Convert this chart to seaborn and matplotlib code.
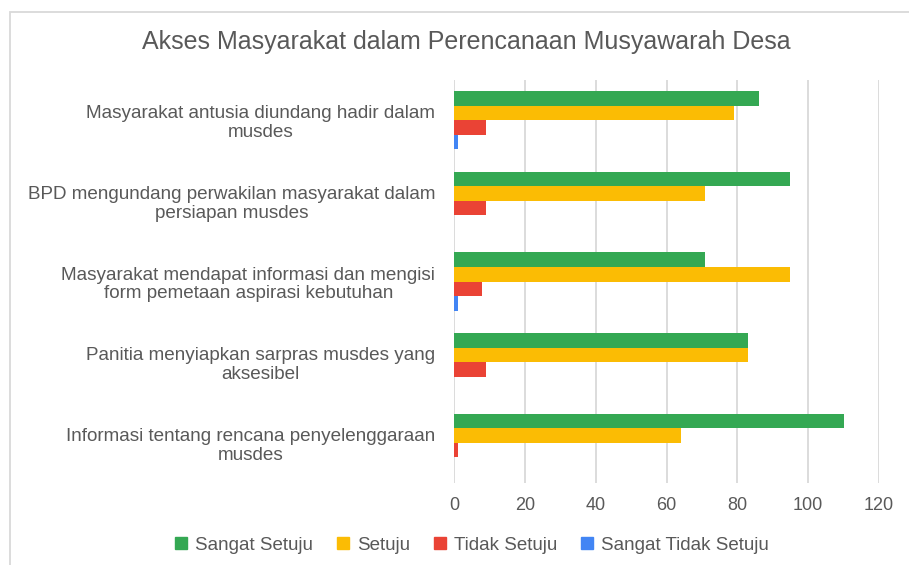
import pandas as pd
import matplotlib.pyplot as plt
import matplotlib.patches as patches
from matplotlib.lines import Line2D
import seaborn as sns

sns.set_style('white')
plt.rcParams['font.family'] = ['Liberation Sans', 'DejaVu Sans']

# data (urutan dari atas ke bawah)
categories = [
    'Masyarakat antusia diundang hadir dalam\nmusdes',
    'BPD mengundang perwakilan masyarakat dalam\npersiapan musdes',
    'Masyarakat mendapat informasi dan mengisi\nform pemetaan aspirasi kebutuhan',
    'Panitia menyiapkan sarpras musdes yang\naksesibel',
    'Informasi tentang rencana penyelenggaraan\nmusdes',
]
series = ['Sangat Setuju', 'Setuju', 'Tidak Setuju', 'Sangat Tidak Setuju']
sangat_setuju = [86, 95, 71, 83, 110]
setuju = [79, 71, 95, 83, 64]
tidak_setuju = [9, 9, 8, 9, 1]
sangat_tidak_setuju = [1, 0, 1, 0, 0]
colors = ['#34A853', '#FBBC04', '#EA4335', '#4285F4']

df = pd.DataFrame({
    'kategori': categories * 4,
    'respon': sum([[s] * len(categories) for s in series], []),
    'nilai': sangat_setuju + setuju + tidak_setuju + sangat_tidak_setuju,
})

fig = plt.figure(figsize=(9.09, 5.65), dpi=100)
ax = fig.add_axes([454 / 909, 82 / 565, (879 - 454) / 909, (483 - 80) / 565])

sns.barplot(data=df, x='nilai', y='kategori', hue='respon', hue_order=series,
            order=categories, palette=colors, saturation=1, orient='h',
            width=0.72, gap=0, linewidth=0, legend=False, ax=ax)

ax.set_xlim(0, 120)
ax.set_xticks(range(0, 121, 20))
ax.set_ylim(4.5, -0.5)
ax.grid(axis='x', color='#d9d9d9', linewidth=1.3)
ax.set_axisbelow(True)
for s in ax.spines.values():
    s.set_visible(False)
ax.set_xlabel('')
ax.set_ylabel('')
ax.tick_params(axis='x', length=0, pad=10, labelsize=13, labelcolor='#595959')
ax.tick_params(axis='y', length=0, pad=13.5, labelsize=13.6, labelcolor='#595959')
for lbl in ax.get_yticklabels():
    lbl.set_multialignment('center')
    lbl.set_linespacing(1.15)

# judul
fig.text(466 / 909, 1 - 42 / 565, 'Akses Masyarakat dalam Perencanaan Musyawarah Desa',
         ha='center', va='center', fontsize=18, color='#595959')

# legenda
handles = [Line2D([], [], marker='s', linestyle='', markersize=9,
                  markerfacecolor=c, markeredgecolor=c) for c in colors]
fig.legend(handles, series, loc='center', bbox_to_anchor=(470 / 909, 1 - 545 / 565),
           ncol=4, frameon=False, fontsize=13.5, labelcolor='#595959',
           handletextpad=0.25, columnspacing=1.1, handlelength=1.0)

# bingkai
fig.patches.append(patches.Rectangle((10 / 909, -0.1), 1.2, 1.1 - 12 / 565,
                                     transform=fig.transFigure, fill=False,
                                     edgecolor='#d9d9d9', linewidth=1.3))

plt.savefig('out.png', dpi=100)
